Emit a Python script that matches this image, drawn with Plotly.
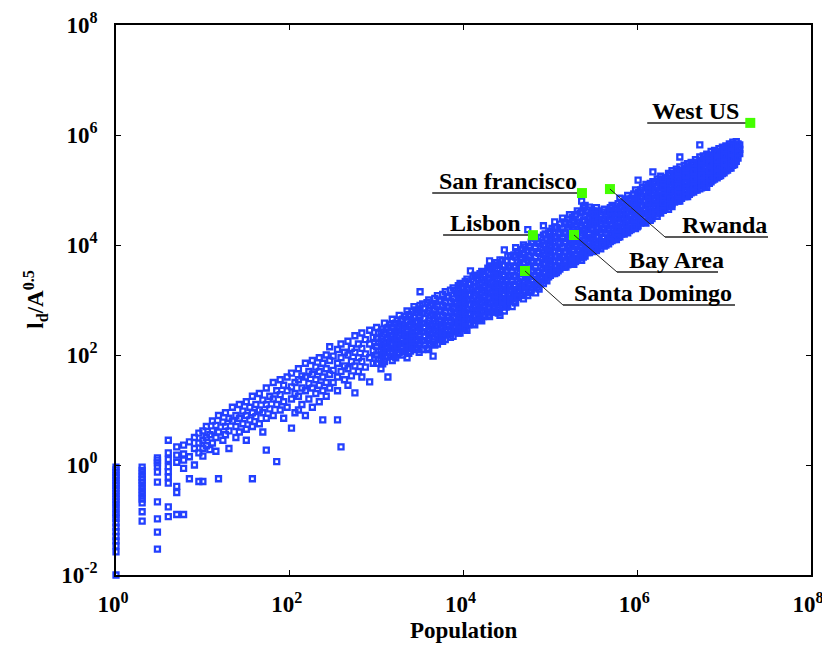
import plotly.graph_objects as go

# ---------------- data (log10 values) ----------------
# each column: population exponent and the l_d/A^0.5 exponents seen at it
pop_exp_cols = [
    0.000, 0.301, 0.477, 0.602, 0.699, 0.778, 0.845, 0.903, 0.954, 1.000,
    1.04, 1.08, 1.11, 1.15, 1.18, 1.23, 1.26, 1.30, 1.34, 1.38,
    1.42, 1.46, 1.50, 1.54, 1.57, 1.61, 1.65, 1.69, 1.73, 1.77,
    1.81, 1.85, 1.89, 1.93, 1.97, 2.02, 2.06, 2.10, 2.14, 2.18,
    2.22, 2.26, 2.30, 2.34, 2.38, 2.42, 2.46, 2.50, 2.55, 2.59,
    2.63, 2.67, 2.71, 2.75, 2.79, 2.83, 2.87, 2.92, 2.96,
    3.00, 3.05, 3.09, 3.13, 3.18, 3.22, 3.26, 3.30, 3.35, 3.39,
    3.43, 3.47, 3.50, 3.55, 3.60, 3.65, 3.70, 3.74, 3.79, 3.83,
    3.88, 3.92, 3.96, 4.00, 4.04, 4.08, 4.13, 4.17, 4.21, 4.25,
    4.30, 4.34, 4.38,
    4.42, 4.47, 4.51, 4.56, 4.60, 4.65, 4.69, 4.74, 4.78, 4.83,
    4.87, 4.92, 4.96, 5.00, 5.05, 5.09, 5.14, 5.18, 5.22, 5.27,
    5.31, 5.36, 5.40, 5.45, 5.49, 5.53, 5.58, 5.62, 5.67, 5.71,
    5.76, 5.80, 5.85, 5.89, 5.93, 5.98, 6.01, 6.06, 6.10, 6.15,
    6.18, 6.23, 6.27, 6.32, 6.36, 6.40, 6.45, 6.49, 6.54, 6.58,
    6.62, 6.67, 6.72, 6.76, 6.80, 6.85, 6.89, 6.94, 6.98, 7.02,
    7.06, 7.10, 7.14, 7.18,
    # second pass over the dense band
    3.02, 3.11, 3.20, 3.28, 3.37, 3.45, 3.53, 3.62, 3.72, 3.81,
    3.90, 3.98, 4.06, 4.15, 4.23, 4.32, 4.40, 4.49, 4.58, 4.67,
    4.76, 4.85, 4.94, 5.02, 5.11, 5.20, 5.29, 5.38, 5.47, 5.55,
    5.64, 5.73, 5.82, 5.91, 6.00, 6.08, 6.17, 6.25, 6.34, 6.43,
    6.51, 6.60, 6.69, 6.78, 6.87, 6.96, 7.04, 7.12,
    # third pass over the dense band
    3.07, 3.16, 3.24, 3.33, 3.41, 3.49, 3.58, 3.67, 3.76, 3.85,
    3.94, 4.02, 4.11, 4.19, 4.28, 4.36, 4.45, 4.54, 4.62, 4.71,
    4.80, 4.89, 4.98, 5.07, 5.16, 5.25, 5.34, 5.43, 5.51, 5.60,
    5.69, 5.78, 5.87, 5.96, 6.04, 6.13, 6.21, 6.30, 6.38, 6.47,
    6.56, 6.65, 6.74, 6.83, 6.92, 7.00, 7.08, 7.16,
]
ld_exp_cols = [
    [-0.04, -0.09, -0.14, -0.19, -0.23, -0.28, -0.33, -0.37, -0.42, -0.47, -0.52, -0.57, -0.62,
     -0.67, -0.73, -0.79, -0.86, -0.91, -0.97, -1.05, -1.13, -1.21, -1.3, -1.38, -1.47, -1.58, -2.0],
    [-0.04, -0.1, -0.16, -0.22, -0.27, -0.32, -0.38, -0.44, -0.5, -0.56, -0.62, -0.69, -0.85, -1.02],
    [0.13, 0.09, 0.04, -0.02, -0.13, -0.31, -0.67, -0.98, -1.22, -1.53],
    [0.45, 0.22, 0.1, -0.03, -0.12, -0.22, -0.33, -0.76, -0.94],
    [0.33, 0.18, 0.05, -0.39, -0.5, -0.9],
    [0.36, 0.2, 0.09, -0.06, -0.9],
    [0.42, 0.15, -0.25],
    [0.5, 0.3, 0.0],
    [0.58, 0.4, 0.22, -0.3],
    [0.62, 0.45, 0.3, 0.16, -0.3],
    [0.7, 0.5, 0.35],
    [0.55, 0.28],
    [0.8, 0.62, 0.4],
    [0.72, 0.5, 0.25],
    [0.9, 0.6, -0.25],
    [0.78, 0.45],
    [0.95, 0.7, 0.55],
    [0.85, 0.62, 0.3],
    [1.05, 0.8],
    [0.9, 0.7, 0.5],
    [1.1, 0.85, 0.6],
    [0.98, 0.75],
    [1.15, 0.9, 0.65, 0.45],
    [1.05, 0.82],
    [1.25, 0.95, 0.7, -0.25],
    [1.1, 0.88],
    [1.3, 1.0, 0.75],
    [1.18, 0.95, 0.6],
    [1.4, 1.1, 0.85, 0.27],
    [1.25, 1.02],
    [1.5, 1.2, 0.9],
    [1.35, 1.1, 0.06],
    [1.55, 1.28, 1.0],
    [1.45, 1.15, 0.85],
    [1.6, 1.35, 1.05],
    [1.67, 1.42, 1.2, 0.67],
    [1.5, 1.3, 0.95],
    [1.75, 1.55, 1.25, 1.0],
    [1.62, 1.4, 1.1],
    [1.85, 1.6, 1.35, 0.9],
    [1.7, 1.48, 1.2],
    [1.9, 1.65, 1.4, 1.05],
    [1.78, 1.55, 1.3],
    [1.95, 1.7, 1.45, 1.15],
    [1.85, 1.6, 1.35, 0.82],
    [2.0, 1.75, 1.5, 1.25],
    [2.15, 1.9, 1.65, 1.4],
    [1.98, 1.72, 1.5],
    [2.1, 1.85, 1.6, 1.35, 0.82],
    [2.2, 1.95, 1.7, 0.33],
    [2.05, 1.8, 1.55],
    [2.25, 2.0, 1.75, 1.45],
    [2.12, 1.88, 1.62],
    [2.35, 2.05, 1.8, 1.31],
    [2.2, 1.95, 1.7],
    [2.4, 2.12, 1.88, 1.6],
    [2.28, 2.02, 1.78],
    [2.45, 2.2, 1.95, 1.51],
    [2.32, 2.08, 1.85],
    [2.5, 2.3, 2.15, 2.0, 1.85],
    [2.42, 2.25, 2.08, 1.92, 1.75],
    [2.58, 2.38, 2.2, 2.05, 1.88],
    [2.5, 2.32, 2.15, 1.98, 1.6],
    [2.65, 2.51, 2.35, 2.2, 2.05, 1.9],
    [2.58, 2.4, 2.25, 2.1, 1.95],
    [2.72, 2.52, 2.35, 2.2, 2.05],
    [2.65, 2.48, 2.3, 2.15, 2.0],
    [2.8, 2.6, 2.42, 2.27, 2.12, 1.95],
    [2.7, 2.55, 2.38, 2.22, 2.07],
    [2.88, 2.68, 2.5, 2.34, 2.18],
    [2.78, 2.6, 2.44, 2.28, 2.12],
    [3.15, 2.9, 2.72, 2.55, 2.38, 2.22],
    [2.85, 2.66, 2.5, 2.34, 2.18],
    [3.0, 2.8, 2.62, 2.46, 2.3, 2.1],
    [2.92, 2.74, 2.56, 2.4, 2.24, 1.98],
    [3.08, 2.88, 2.7, 2.52, 2.36, 2.2],
    [3.0, 2.82, 2.64, 2.48, 2.32],
    [3.15, 2.95, 2.77, 2.6, 2.44, 2.28],
    [3.05, 2.88, 2.7, 2.54, 2.38],
    [3.22, 3.02, 2.84, 2.67, 2.5, 2.34],
    [3.12, 2.95, 2.78, 2.6, 2.44],
    [3.3, 3.1, 2.92, 2.74, 2.57, 2.4],
    [3.2, 3.02, 2.85, 2.68, 2.52],
    [3.38, 3.18, 3.0, 2.82, 2.65, 2.45],
    [3.53, 3.28, 3.1, 2.92, 2.75, 2.58],
    [3.45, 3.25, 3.07, 2.9, 2.72, 2.55],
    [3.36, 3.18, 3.0, 2.82, 2.65],
    [3.52, 3.32, 3.14, 2.96, 2.79, 2.62],
    [3.44, 3.26, 3.08, 2.9, 2.72],
    [3.71, 3.6, 3.4, 3.22, 3.04, 2.86, 2.7],
    [3.5, 3.33, 3.15, 2.97, 2.8],
    [3.68, 3.48, 3.3, 3.12, 2.95, 2.78],
    [3.73, 3.55, 3.38, 3.2, 3.03, 2.87, 2.72],
    [3.91, 3.62, 3.45, 3.28, 3.12, 2.95, 2.8],
    [3.8, 3.6, 3.42, 3.25, 3.08, 2.92],
    [3.7, 3.52, 3.35, 3.18, 3.02, 2.88],
    [3.95, 3.78, 3.6, 3.42, 3.25, 3.08, 2.95],
    [3.82, 3.65, 3.48, 3.3, 3.13],
    [4.0, 3.85, 3.68, 3.5, 3.33, 3.17, 3.02],
    [4.28, 3.9, 3.73, 3.56, 3.39, 3.22, 3.08],
    [4.05, 3.88, 3.7, 3.52, 3.35, 3.18],
    [4.12, 3.95, 3.78, 3.6, 3.43, 3.27, 3.13],
    [4.02, 3.85, 3.68, 3.5, 3.33, 3.2],
    [4.35, 4.18, 4.0, 3.82, 3.65, 3.48, 3.3],
    [4.1, 3.92, 3.75, 3.58, 3.42, 3.35],
    [4.25, 4.08, 3.9, 3.72, 3.55, 3.45],
    [4.42, 4.32, 4.15, 3.98, 3.8, 3.63, 3.48],
    [4.22, 4.05, 3.88, 3.7, 3.53],
    [4.49, 4.3, 4.12, 3.95, 3.78, 3.6],
    [4.4, 4.22, 4.05, 3.88, 3.7, 3.6],
    [4.55, 4.36, 4.18, 4.0, 3.83, 3.66],
    [4.45, 4.28, 4.1, 3.92, 3.75, 3.65],
    [4.62, 4.42, 4.24, 4.06, 3.9, 3.73],
    [4.8, 4.6, 4.35, 4.18, 4.0, 3.83, 3.72],
    [4.72, 4.52, 4.3, 4.12, 3.95, 3.8],
    [4.69, 4.5, 4.38, 4.2, 4.02, 3.86],
    [4.62, 4.44, 4.27, 4.1, 3.95, 3.88],
    [4.68, 4.5, 4.33, 4.16, 4.0, 3.9],
    [4.55, 4.4, 4.23, 4.06, 3.93],
    [4.65, 4.47, 4.3, 4.13, 3.98],
    [4.6, 4.44, 4.27, 4.1, 4.02],
    [4.72, 4.55, 4.38, 4.22, 4.08],
    [4.65, 4.5, 4.34, 4.18, 4.1],
    [4.85, 4.7, 4.55, 4.4, 4.25, 4.15],
    [4.78, 4.63, 4.48, 4.32, 4.2],
    [4.9, 4.75, 4.6, 4.45, 4.3, 4.22],
    [4.85, 4.7, 4.55, 4.4, 4.28],
    [5.0, 4.82, 4.66, 4.5, 4.36, 4.3],
    [5.18, 4.95, 4.78, 4.62, 4.47, 4.35],
    [5.05, 4.88, 4.72, 4.57, 4.42],
    [5.1, 4.95, 4.8, 4.65, 4.5, 4.4],
    [5.12, 4.98, 4.82, 4.68, 4.53, 4.45],
    [5.33, 5.15, 5.0, 4.85, 4.7, 4.55],
    [5.2, 5.05, 4.9, 4.75, 4.6, 4.52],
    [5.25, 5.1, 4.95, 4.8, 4.65, 4.58],
    [5.22, 5.08, 4.93, 4.78, 4.66],
    [5.3, 5.15, 5.0, 4.86, 4.72, 4.65],
    [5.35, 5.2, 5.05, 4.9, 4.75, 4.7],
    [5.38, 5.24, 5.1, 4.96, 4.82],
    [5.6, 5.42, 5.28, 5.14, 5.0, 4.86, 4.8],
    [5.45, 5.3, 5.16, 5.02, 4.88],
    [5.48, 5.34, 5.2, 5.06, 4.92, 4.88],
    [5.5, 5.36, 5.22, 5.08, 4.95],
    [5.55, 5.4, 5.26, 5.12, 5.0],
    [5.82, 5.6, 5.45, 5.3, 5.16, 5.02],
    [5.62, 5.48, 5.34, 5.2, 5.08],
    [5.65, 5.52, 5.38, 5.25, 5.12, 5.05],
    [5.7, 5.56, 5.42, 5.28, 5.15],
    [5.72, 5.58, 5.45, 5.32, 5.2],
    [5.75, 5.62, 5.48, 5.36, 5.25],
    [5.78, 5.65, 5.52, 5.4, 5.3],
    [5.8, 5.68, 5.56, 5.45, 5.35],
    [5.84, 5.72, 5.6, 5.5, 5.4],
    [5.87, 5.76, 5.65, 5.55, 5.45],
    [5.88, 5.78, 5.68, 5.6, 5.52],
    [5.82, 5.74, 5.66],
    # second pass over the dense band
    [2.4, 2.22, 2.07, 1.93],
    [2.47, 2.29, 2.12, 1.96],
    [2.57, 2.42, 2.28, 2.13, 1.98],
    [2.62, 2.44, 2.27, 2.12],
    [2.74, 2.51, 2.34, 2.19, 2.03],
    [2.82, 2.59, 2.42, 2.26, 2.1],
    [2.93, 2.76, 2.58, 2.42, 2.26, 2.1],
    [2.9, 2.71, 2.54, 2.38, 2.2],
    [2.98, 2.79, 2.61, 2.44, 2.28],
    [3.06, 2.86, 2.68, 2.52, 2.36],
    [3.17, 2.93, 2.76, 2.58, 2.42],
    [3.24, 3.06, 2.88, 2.7, 2.54],
    [3.3, 3.09, 2.91, 2.73, 2.55],
    [3.4, 3.16, 2.98, 2.81, 2.63],
    [3.47, 3.23, 3.05, 2.87, 2.7],
    [3.55, 3.31, 3.13, 2.95, 2.78],
    [3.63, 3.44, 3.25, 3.08, 2.91, 2.76],
    [3.71, 3.54, 3.37, 3.2, 3.03, 2.87],
    [3.82, 3.62, 3.45, 3.28, 3.12, 2.98],
    [3.92, 3.75, 3.58, 3.4, 3.23, 3.08],
    [3.97, 3.8, 3.62, 3.45, 3.28, 3.14],
    [4.06, 3.88, 3.7, 3.53, 3.37, 3.24],
    [4.2, 3.98, 3.8, 3.64, 3.5, 3.38],
    [4.3, 4.12, 3.96, 3.78, 3.62, 3.48],
    [4.38, 4.2, 4.02, 3.85, 3.68, 3.56],
    [4.47, 4.3, 4.12, 3.95, 3.78, 3.64],
    [4.55, 4.36, 4.18, 4.0, 3.82, 3.7],
    [4.68, 4.45, 4.26, 4.08, 3.9, 3.78],
    [4.58, 4.42, 4.28, 4.12, 3.98, 3.9],
    [4.62, 4.45, 4.3, 4.14, 4.0, 3.94],
    [4.56, 4.4, 4.22, 4.06, 4.0],
    [4.64, 4.48, 4.3, 4.16, 4.1],
    [4.78, 4.62, 4.47, 4.32, 4.2],
    [4.82, 4.67, 4.52, 4.37, 4.26],
    [4.9, 4.72, 4.56, 4.42, 4.33],
    [4.96, 4.8, 4.64, 4.5, 4.42],
    [5.05, 4.9, 4.75, 4.6, 4.48],
    [5.16, 5.0, 4.86, 4.72, 4.6],
    [5.22, 5.08, 4.94, 4.8, 4.7],
    [5.3, 5.16, 5.02, 4.88, 4.78],
    [5.36, 5.22, 5.08, 4.94, 4.85],
    [5.42, 5.28, 5.14, 5.0, 4.92],
    [5.5, 5.36, 5.22, 5.08, 5.0],
    [5.56, 5.42, 5.3, 5.16, 5.08],
    [5.64, 5.5, 5.36, 5.24, 5.18],
    [5.7, 5.56, 5.44, 5.32, 5.26],
    [5.78, 5.64, 5.52, 5.42, 5.36],
    [5.82, 5.7, 5.6, 5.5, 5.46],
    # third pass over the dense band
    [2.47, 2.33, 2.16, 2.0, 1.84],
    [2.56, 2.42, 2.27, 2.11, 1.97],
    [2.64, 2.47, 2.31, 2.16, 2.01],
    [2.7, 2.54, 2.37, 2.21, 2.06],
    [2.79, 2.62, 2.46, 2.3, 2.15],
    [2.84, 2.69, 2.52, 2.36, 2.2, 2.05],
    [2.95, 2.76, 2.58, 2.42, 2.26, 2.12],
    [3.03, 2.84, 2.66, 2.5, 2.33, 2.18],
    [3.1, 2.9, 2.72, 2.56, 2.4, 2.25],
    [3.18, 2.98, 2.8, 2.63, 2.47, 2.32],
    [3.26, 3.06, 2.88, 2.71, 2.55, 2.4],
    [3.34, 3.14, 2.96, 2.78, 2.61, 2.48],
    [3.42, 3.22, 3.04, 2.86, 2.69, 2.56],
    [3.48, 3.29, 3.11, 2.94, 2.77, 2.64],
    [3.58, 3.37, 3.19, 3.02, 2.85, 2.72],
    [3.64, 3.45, 3.27, 3.1, 2.93, 2.8],
    [3.72, 3.52, 3.34, 3.17, 3.0, 2.88],
    [3.8, 3.6, 3.42, 3.25, 3.09, 2.97],
    [3.88, 3.69, 3.51, 3.34, 3.18, 3.05],
    [3.96, 3.77, 3.59, 3.42, 3.26, 3.13],
    [4.04, 3.86, 3.68, 3.51, 3.35, 3.22],
    [4.14, 3.95, 3.77, 3.6, 3.44, 3.3],
    [4.22, 4.04, 3.86, 3.69, 3.53, 3.42],
    [4.32, 4.14, 3.96, 3.79, 3.62, 3.5],
    [4.42, 4.24, 4.06, 3.89, 3.72, 3.6],
    [4.5, 4.32, 4.14, 3.97, 3.8, 3.68],
    [4.58, 4.4, 4.22, 4.05, 3.88, 3.76],
    [4.64, 4.47, 4.3, 4.14, 3.98, 3.86],
    [4.56, 4.38, 4.22, 4.07, 3.93],
    [4.6, 4.44, 4.27, 4.12, 4.0],
    [4.68, 4.52, 4.35, 4.2, 4.06],
    [4.75, 4.59, 4.43, 4.28, 4.14],
    [4.84, 4.68, 4.52, 4.38, 4.24],
    [4.93, 4.77, 4.61, 4.46, 4.33],
    [5.0, 4.84, 4.69, 4.54, 4.4],
    [5.08, 4.92, 4.77, 4.62, 4.48],
    [5.14, 4.99, 4.84, 4.69, 4.56],
    [5.2, 5.05, 4.9, 4.76, 4.63],
    [5.28, 5.13, 4.98, 4.84, 4.71],
    [5.34, 5.2, 5.06, 4.92, 4.8],
    [5.4, 5.26, 5.12, 4.98, 4.88],
    [5.48, 5.34, 5.2, 5.06, 4.96],
    [5.54, 5.4, 5.26, 5.13, 5.04],
    [5.62, 5.48, 5.35, 5.22, 5.12],
    [5.68, 5.55, 5.42, 5.3, 5.22],
    [5.74, 5.62, 5.5, 5.39, 5.31],
    [5.8, 5.68, 5.57, 5.47, 5.4],
    [5.84, 5.75, 5.66, 5.58],
]

# highlighted places
city_names = ["West US", "San francisco", "Rwanda", "Lisbon", "Bay Area", "Santa Domingo"]
city_pop = [2.0e7, 2.31e5, 4.85e5, 6.3e4, 1.87e5, 5.1e4]
city_ld = [1.66e6, 8.8e4, 1.04e5, 1.51e4, 1.52e4, 3.37e3]

x_tick_vals = [1, 1e2, 1e4, 1e6, 1e8]
x_tick_text = ["10<sup>0</sup>", "10<sup>2</sup>", "10<sup>4</sup>", "10<sup>6</sup>", "10<sup>8</sup>"]
y_tick_vals = [1e-2, 1, 1e2, 1e4, 1e6, 1e8]
y_tick_text = ["10<sup>-2</sup>", "10<sup>0</sup>", "10<sup>2</sup>", "10<sup>4</sup>",
               "10<sup>6</sup>", "10<sup>8</sup>"]

# ---------------- build ----------------
pop = []
ld = []
for xe, ys in zip(pop_exp_cols, ld_exp_cols):
    for ye in ys:
        pop.append(10 ** xe)
        ld.append(10 ** ye)

FONT = "Liberation Serif"
BLUE = "#2340ff"
GREEN = "#44ff00"

fig = go.Figure()
fig.add_trace(go.Scatter(
    x=pop, y=ld, mode="markers", cliponaxis=False, showlegend=False,
    marker=dict(symbol="square-open", size=5, color=BLUE, line=dict(width=2.3, color=BLUE)),
))
fig.add_trace(go.Scatter(
    x=city_pop, y=city_ld, mode="markers", cliponaxis=False, showlegend=False,
    marker=dict(symbol="square", size=10, color=GREEN, line=dict(width=0)),
))

# label layout (log10 coordinates): text left x, underline left x, underline right x, underline y
# side "left": underline ends at the marker; side "right": leader from marker to underline start
label_layout = {
    "West US":       ("left", 6.15, 6.115, None, 6.218),
    "San francisco": ("left", 3.70, 3.64, None, 4.945),
    "Lisbon":        ("left", 3.82, 3.765, None, 4.18),
    "Rwanda":        ("right", 6.49, 6.32, 7.505, 4.145),
    "Bay Area":      ("right", 5.88, 5.767, 6.93, 3.509),
    "Santa Domingo": ("right", 5.25, 5.145, 7.125, 2.909),
}

shapes = []
annotations = []
for name, px_, py_ in zip(city_names, city_pop, city_ld):
    side, tx, ux0, ux1, uy = label_layout[name]
    if side == "left":
        shapes.append(dict(type="line", xref="x", yref="y", x0=10 ** ux0, x1=px_,
                           y0=10 ** uy, y1=10 ** uy, line=dict(color="#222", width=1.5), layer="below"))
    else:
        shapes.append(dict(type="line", xref="x", yref="y", x0=px_, x1=10 ** ux0,
                           y0=py_, y1=10 ** uy, line=dict(color="#222", width=1), layer="above"))
        shapes.append(dict(type="line", xref="x", yref="y", x0=10 ** ux0, x1=10 ** ux1,
                           y0=10 ** uy, y1=10 ** uy, line=dict(color="#222", width=1.5)))
    annotations.append(dict(text="<b>" + name + "</b>", x=tx, y=uy, xref="x", yref="y",
                            xanchor="left", yanchor="bottom", showarrow=False, yshift=-3,
                            font=dict(family=FONT, size=24, color="black")))

# axis titles placed as paper annotations
annotations.append(dict(text="<b>Population</b>", x=0.5, y=-0.1, xref="paper", yref="paper",
                        xanchor="center", yanchor="middle", showarrow=False,
                        font=dict(family=FONT, size=23, color="black")))
annotations.append(dict(text="<b>l<sub>d</sub>/A<sup>0.5</sup></b>", x=-0.117, y=0.5,
                        xref="paper", yref="paper", xanchor="center", yanchor="middle",
                        textangle=-90, showarrow=False,
                        font=dict(family=FONT, size=23, color="black")))

axis_common = dict(
    type="log", showgrid=False, zeroline=False, showline=True, linecolor="black", linewidth=1.5,
    mirror="ticks", ticks="inside", ticklen=5, tickwidth=1.2, tickcolor="black",
    automargin=False,
    tickfont=dict(family=FONT, size=23, color="black", weight="bold"),
)

# the page body has an 8px margin, so the figure is sized to keep the plot box in place
fig.update_layout(
    width=822, height=640,
    margin=dict(l=108, r=19, t=17, b=73),
    paper_bgcolor="white", plot_bgcolor="white",
    font=dict(family=FONT, color="black"),
    xaxis=dict(axis_common, range=[0, 8], tickvals=x_tick_vals, ticktext=x_tick_text,
               ticklabelstandoff=8, ticklabelshift=-3),
    yaxis=dict(axis_common, range=[-2, 8], tickvals=y_tick_vals, ticktext=y_tick_text,
               ticklabelstandoff=12),
    shapes=shapes, annotations=annotations,
)

fig.write_html("out.html")
